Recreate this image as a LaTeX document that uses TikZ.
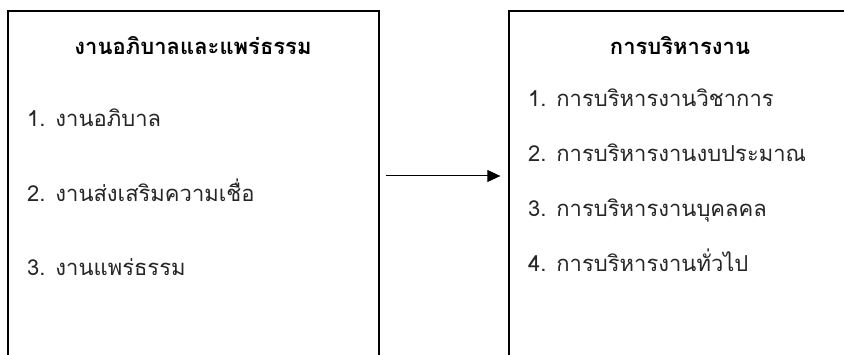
\documentclass[tikz,border=0pt]{standalone}
\usepackage{fontspec}
\newfontfamily\thaifont[Script=Thai]{Loma}
\usetikzlibrary{arrows.meta}
\begin{document}
\begin{tikzpicture}[x=1pt,y=-1pt,
  panel/.style={draw=black, line width=1.3pt, inner sep=0pt, rectangle},
  heading/.style={font=\thaifont\bfseries\fontsize{22}{26}\selectfont, anchor=base, inner sep=0pt},
  item/.style={font=\thaifont\fontsize{22}{26}\selectfont, anchor=base west, inner sep=0pt, text=black!85},
  arrow/.style={-{Triangle[length=13pt,width=12pt]}, line width=1pt}]
\useasboundingbox (0,0) rectangle (844,355);
\fill[white] (0,0) rectangle (844,355);
\clip (0,0) rectangle (844,355);
\node[panel, minimum width=371pt, minimum height=389pt] (L) at (193.5,205.5) {};
\node[panel, minimum width=342pt, minimum height=389pt] (R) at (680,205.5) {};
\node[heading] (lt) at (193,55) {งานอภิบาลและแพร่ธรรม};
\node[item] (l1) at (27,127) {1. งานอภิบาล};
\node[item] (l2) at (27,202) {2. งานส่งเสริมความเชื่อ};
\node[item] (l3) at (27,276) {3. งานแพร่ธรรม};
\node[heading] (rt) at (680,55) {การบริหารงาน};
\node[item] (r1) at (528,107) {1. การบริหารงานวิชาการ};
\node[item] (r2) at (528,162) {2. การบริหารงานงบประมาณ};
\node[item] (r3) at (528,217) {3. การบริหารงานบุคลคล};
\node[item] (r4) at (528,272) {4. การบริหารงานทั่วไป};
\coordinate (mid) at (0,176);
\draw[arrow, shorten <=6pt, shorten >=8pt] (L.east |- mid) -- (R.west |- mid);
\end{tikzpicture}
\end{document}
